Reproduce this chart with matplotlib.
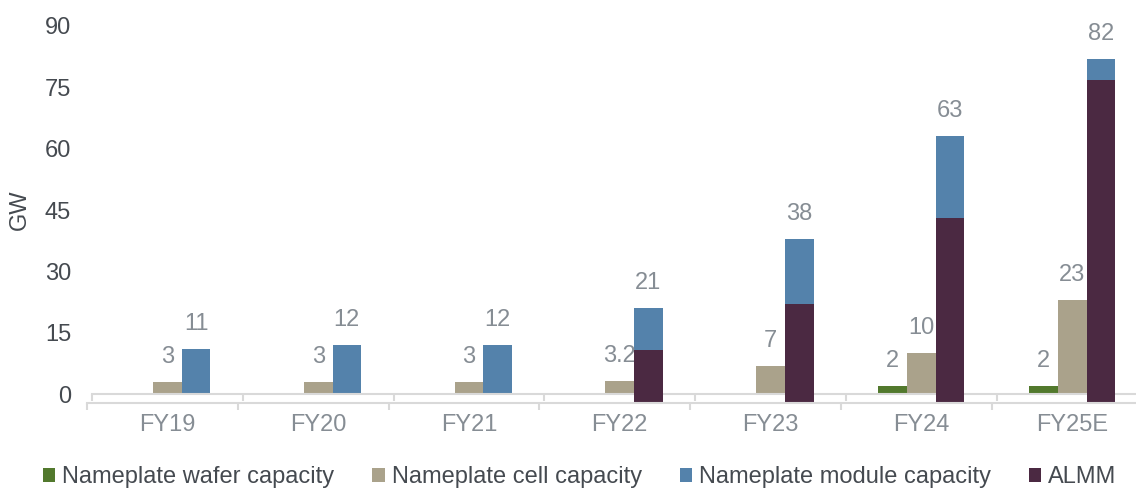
import numpy as np
import matplotlib
matplotlib.use("Agg")
import matplotlib.pyplot as plt

plt.rcParams['font.family'] = ['Liberation Sans', 'DejaVu Sans']

categories = ["FY19", "FY20", "FY21", "FY22", "FY23", "FY24", "FY25E"]
wafer = [np.nan, np.nan, np.nan, np.nan, np.nan, 2, 2]
cell = [3, 3, 3, 3.2, 7, 10, 23]
module = [11, 12, 12, 21, 38, 63, 82]
almm = [np.nan, np.nan, np.nan, 12.6, 23.6, 44.1, 77.1]
yticks = [0, 15, 30, 45, 60, 75, 90]

c_wafer = '#52792d'
c_cell = '#aaa28b'
c_module = '#5482ab'
c_almm = '#4b2942'
c_axis = '#d9d9d9'
c_lab = '#868d94'
c_dark = '#454a50'

W, H = 1136, 488
fig = plt.figure(figsize=(W / 100, H / 100), dpi=100)

def fx(px):
    return px / W

def fy(py):
    return 1 - py / H

step = 150.8
left1 = 92
right1 = left1 + 7 * step
zero1, top = 394.3, 25.8
ax = fig.add_axes([fx(left1), fy(zero1), fx(right1 - left1), (zero1 - top) / H])

left2 = 87
zero2 = 403
ax2 = fig.add_axes([fx(left2), fy(zero2), fx(right1 - left1), (zero2 - top) / H])
ax2.patch.set_visible(False)

x = np.arange(len(categories))
bw = 0.19
FS = 17

b_w = ax.bar(x - bw, wafer, bw, color=c_wafer, label="Nameplate wafer capacity")
b_c = ax.bar(x, cell, bw, color=c_cell, label="Nameplate cell capacity")
b_m = ax.bar(x + bw, module, bw, color=c_module, label="Nameplate module capacity")

shift = (left1 - left2) / step
b_a = ax2.bar(x + bw + shift, almm, bw, color=c_almm, label="ALMM")

for bars, vals in ((b_w, wafer), (b_c, cell), (b_m, module)):
    for rect, v in zip(bars, vals):
        if np.isnan(v):
            continue
        ax.annotate(f"{v:g}", (rect.get_x() + rect.get_width() / 2, v),
                    xytext=(0, 18), textcoords='offset points',
                    ha='center', va='center', fontsize=FS, color=c_lab)

for a in (ax, ax2):
    a.set_xlim(-0.5, len(categories) - 0.5)
    a.set_ylim(0, 90)
    for s in ('left', 'right', 'top'):
        a.spines[s].set_visible(False)
    a.spines['bottom'].set_color(c_axis)
    a.spines['bottom'].set_linewidth(1.5)
    a.set_xticks(np.arange(len(categories) + 1) - 0.5)
    a.set_xticklabels([])
    a.tick_params(axis='x', which='major', length=5, width=1.5, color=c_axis)

ax.set_xticks(x, minor=True)
ax.set_xticklabels(categories, minor=True)
ax.tick_params(axis='x', which='minor', length=0, pad=14.5, labelsize=FS, labelcolor=c_lab)
ax.set_yticks(yticks)
ax.tick_params(axis='y', length=0, pad=15, labelsize=FS, labelcolor=c_dark)
ax2.set_yticks([])

fig.text(fx(19.5), fy(210), "GW", rotation=90, ha='center', va='center',
         fontsize=FS, color=c_dark)

fig.legend(handles=[b_w, b_c, b_m, b_a], loc='center left',
           bbox_to_anchor=(fx(43), fy(477)), ncol=4, frameon=False,
           fontsize=FS, labelcolor=c_dark, handlelength=0.52, handleheight=0.52,
           handletextpad=0.3, columnspacing=1.6, borderpad=0, borderaxespad=0)

fig.savefig("out.png", dpi=100)
